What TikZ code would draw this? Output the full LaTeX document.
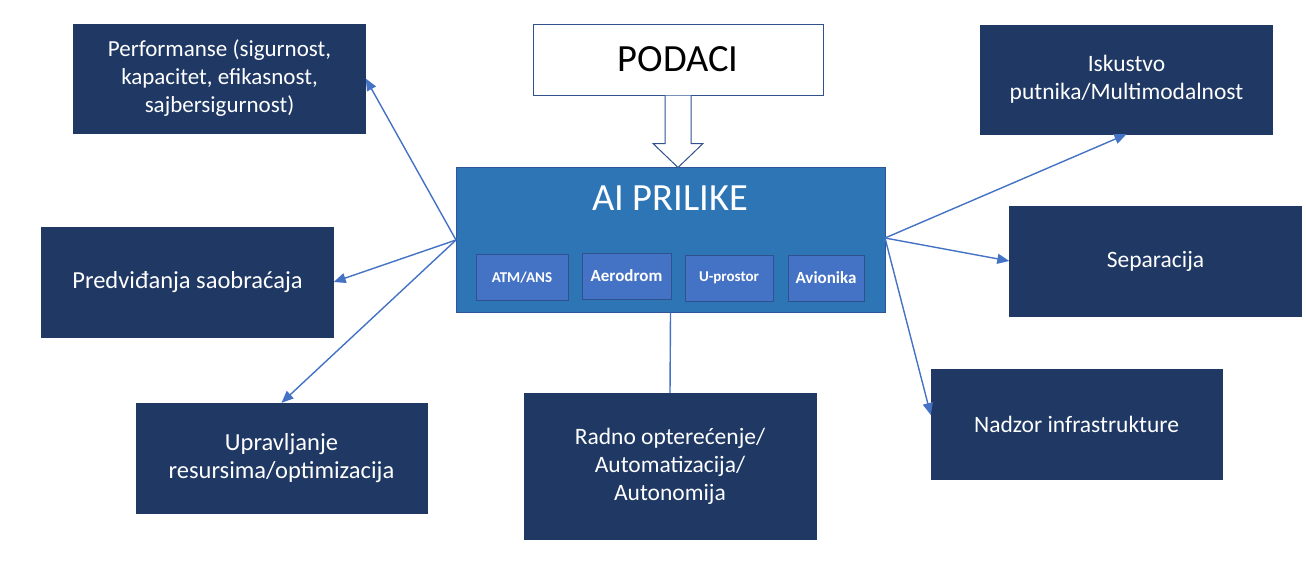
\documentclass[tikz,border=0pt]{standalone}
\usepackage{fontspec}
\setmainfont{Carlito}
\usepackage{tikz}
\usetikzlibrary{arrows.meta,calc}

\definecolor{navy}{HTML}{1F3864}
\definecolor{aiblue}{HTML}{2E75B6}
\definecolor{aiedge}{HTML}{2F5597}
\definecolor{subblue}{HTML}{4472C4}
\definecolor{subedge}{HTML}{2F528F}

\tikzset{
	goalbox/.style={draw=navy, fill=navy, text=white, align=center, inner sep=0pt,
		minimum width=292pt, minimum height=110pt, font=\fontsize{23.5}{28}\selectfont},
	sectorbox/.style={draw=subedge, line width=1pt, fill=subblue, text=white, inner sep=0pt,
		minimum height=46pt, font=\bfseries\fontsize{17}{20}\selectfont},
	link/.style={color=subblue, line width=1.4pt, -{Triangle[length=12pt,width=10pt]}}
}

\begin{document}
\begin{tikzpicture}[x=1pt, y=-1pt]
\useasboundingbox (0,0) rectangle (1306,566);
%central block
\node[draw=aiedge, line width=1pt, fill=aiblue, minimum width=429pt, minimum height=145pt] (ai) at (670.5,239.5) {};
\node[text=white, font=\fontsize{38.5}{42}\selectfont] (title) at (670,198) {AI PRILIKE};
\node[sectorbox, minimum width=92pt, font=\bfseries\fontsize{15}{18}\selectfont] (atm) at (522,277.5) {ATM/ANS};
\node[sectorbox, minimum width=89pt] (aero) at (626.5,276) {Aerodrom};
\node[sectorbox, minimum width=88pt, font=\bfseries\fontsize{15}{18}\selectfont] (uprostor) at (729,278) {U-prostor};
\node[sectorbox, minimum width=76pt] (avio) at (826,278) {Avionika};
%data input
\node[draw=subedge, line width=1pt, fill=white, minimum width=290pt, minimum height=71pt, font=\fontsize{38.5}{42}\selectfont] (podaci) at (678,59.5) {PODACI};
\draw[subedge, line width=1pt, fill=white]
	($(podaci.south)+(-13,0)$) -- ++(0,48) -- ++(-12,0) -- ($(podaci.south)+(0,72)$)
	-- ($(podaci.south)+(25,48)$) -- ++(-12,0) -- ($(podaci.south)+(13,0)$);
%outer blocks
\node[goalbox, minimum height=109pt, font=\fontsize{23}{28}\selectfont] (perf) at (219.5,78.5) {Performanse (sigurnost,\\ kapacitet, efikasnost,\\ sajbersigurnost)};
\node[goalbox, font=\fontsize{24.5}{28}\selectfont] (pred) at (187.5,282) {Predviđanja saobraćaja};
\node[goalbox, minimum width=291pt, font=\fontsize{24.5}{28}\selectfont] (upr) at (281.5,458) {Upravljanje\\ resursima/optimizacija};
\node[goalbox, minimum height=146pt] (radno) at (670,466) {Radno opterećenje/\\ Automatizacija/\\ Autonomija};
\node[goalbox, minimum width=291pt] (nadzor) at (1076.5,424) {Nadzor infrastrukture};
\node[goalbox] (sep) at (1155.5,261) {Separacija};
\node[goalbox, minimum height=109pt] (isk) at (1126.5,79.5) {Iskustvo\\ putnika/Multimodalnost};
\coordinate (lhub) at (456,240);
\coordinate (rhub) at (885,238);
%\path[->,font=\scriptsize]
\path[link]
(lhub) edge (perf.east)
(lhub) edge (pred.east)
(lhub) edge (upr.north)
(rhub) edge (isk.south)
(rhub) edge (sep.west)
(rhub) edge ($(nadzor.west)+(0,-9)$)
;
\path[link,-] (ai.south) edge (radno.north);
\end{tikzpicture}
\end{document}
